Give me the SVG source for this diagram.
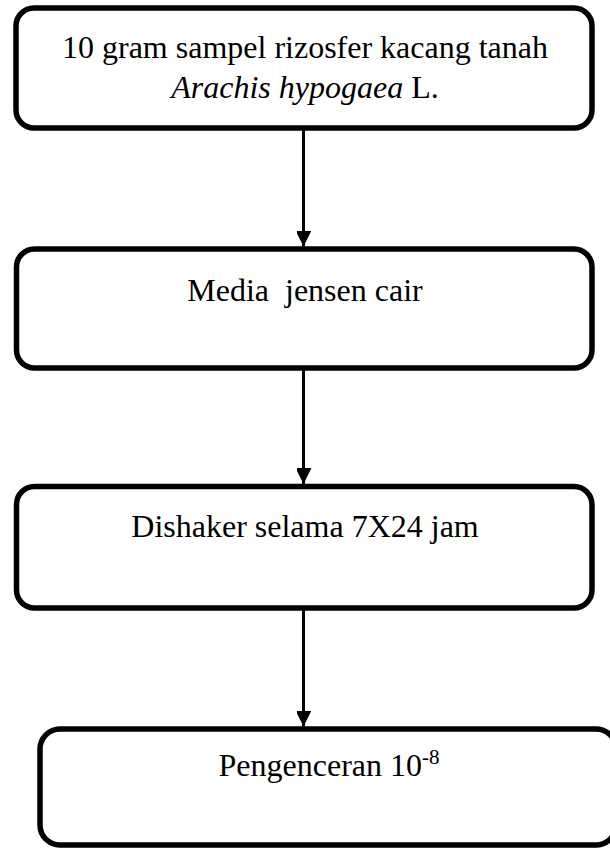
<svg xmlns="http://www.w3.org/2000/svg" width="610" height="848" viewBox="0 0 610 848">
  <style>
    .box { fill: #ffffff; stroke: #000000; stroke-width: 5.5; }
    .lbl { font-family: "Liberation Serif", "Times New Roman", serif; font-size: 32px; fill: #000000; text-anchor: middle; white-space: pre; }
    .edge { stroke: #000000; stroke-width: 3; fill: none; }
  </style>
  <defs>
    <marker id="arrow" markerUnits="userSpaceOnUse" markerWidth="16" markerHeight="15" refX="16" refY="8" orient="auto">
      <path d="M0,0 L16,8 L0,16 Z" fill="#000000"/>
    </marker>
  </defs>
  <rect width="610" height="848" fill="#ffffff"/>

  <g id="connectors">
    <line class="edge" x1="303.5" y1="128" x2="303.5" y2="246.5" marker-end="url(#arrow)"/>
    <line class="edge" x1="303.5" y1="368" x2="303.5" y2="484" marker-end="url(#arrow)"/>
    <line class="edge" x1="303.5" y1="608" x2="303.5" y2="726.5" marker-end="url(#arrow)"/>
  </g>

  <g id="sample">
    <rect class="box" x="16" y="8" width="576" height="120" rx="18" ry="18"/>
    <text class="lbl" x="305" y="58">10 gram sampel rizosfer kacang tanah</text>
    <text class="lbl" x="305" y="98"><tspan font-style="italic">Arachis hypogaea</tspan> L.</text>
  </g>

  <g id="media">
    <rect class="box" x="16.5" y="249" width="575.5" height="119" rx="18" ry="18"/>
    <text class="lbl" x="305" y="301">Media  jensen cair</text>
  </g>

  <g id="shaker">
    <rect class="box" x="16.5" y="486.5" width="575.5" height="121.5" rx="18" ry="18"/>
    <text class="lbl" x="305" y="537">Dishaker selama 7X24 jam</text>
  </g>

  <g id="dilution">
    <rect class="box" x="40" y="729" width="576" height="116" rx="20" ry="20"/>
    <text class="lbl" x="329" y="776">Pengenceran 10<tspan font-size="21" dy="-12">-8</tspan></text>
  </g>
</svg>
